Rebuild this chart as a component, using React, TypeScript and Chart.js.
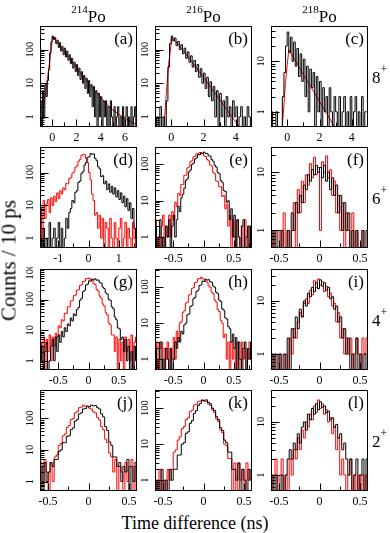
import React, { useEffect, useRef } from 'react';
import { Chart, registerables } from 'chart.js';

Chart.register(...registerables);

// ---------------- data ----------------
const Y_MIN = 0.5;
const ZERO_FLOOR = 0.01; // empty bins are drawn down to (below) the axis bottom
const ISOTOPES = ['214', '216', '218'];
const SPINS = ['8', '6', '4', '2'];
const X_TITLE = 'Time difference (ns)';
const Y_TITLE = 'Counts / 10 ps';

// tick values
const X_MAJOR_WIDE = [0, 2, 4, 6];
const X_MINOR_WIDE = [1, 3, 5];
const X_MAJOR_MID = [0, 2, 4];
const X_MINOR_MID = [1, 3];
const X_MAJOR_D = [-1, 0, 1];
const X_MINOR_D = [-1.5, -0.5, 0.5, 1.5];
const X_MAJOR_HALF = [-0.5, 0, 0.5];
const X_MINOR_08 = [-0.75, -0.25, 0.25, 0.75];
const X_MINOR_06 = [-0.25, 0.25];
const Y_MAJOR = [1, 10, 100, 1000];

// (a) 214Po 8+  : -1..7 ns
const A_BLACK = [
  3, 0, 6, 1, 9, 4, 12, 25, 80, 170,
  250, 200, 230, 150, 190, 115, 160, 90, 125, 70,
  110, 60, 90, 48, 70, 38, 55, 28, 42, 22,
  36, 17, 28, 13, 22, 10, 17, 7, 14, 5,
  12, 4, 9, 2, 8, 1, 6, 0, 5, 1,
  4, 0, 3, 1, 3, 0, 2, 0, 3, 1,
  0, 2, 0, 1, 2, 0, 1, 0, 2, 0,
  1, 2, 0, 1, 0, 2, 0, 1, 2, 0,
];
const A_FIT_X = [-0.9, -0.6, -0.3, -0.1, 0.05, 0.5, 1, 1.5, 2, 2.5, 3, 3.5, 4, 4.5, 5, 5.5, 6, 6.5, 7];
const A_FIT_Y = [0.5, 3.5, 24, 90, 240, 150, 88, 52, 29, 17, 10, 6, 3.8, 2.4, 1.6, 1.2, 0.9, 0.72, 0.58];

// (b) 216Po 8+ : -1..5 ns
const B_BLACK = [
  0, 1, 0, 2, 0, 1, 0, 3, 30, 150,
  250, 180, 220, 130, 175, 100, 140, 75, 110, 55,
  85, 42, 65, 30, 48, 22, 36, 15, 27, 10,
  20, 7, 15, 4, 11, 3, 8, 1, 6, 0,
  5, 1, 3, 0, 4, 1, 2, 0, 3, 1,
  2, 0, 1, 2, 0, 1, 0, 2, 1, 0,
];
const B_FIT_X = [-0.45, -0.3, -0.15, 0.05, 0.5, 1, 1.5, 2, 2.5, 3, 3.5, 4, 4.3];
const B_FIT_Y = [0.5, 5, 40, 230, 130, 65, 31, 15, 7, 3.3, 1.5, 0.7, 0.45];

// (c) 218Po 8+ : -1..5 ns
const C_BLACK = [
  1, 0, 0, 1, 0, 0, 0, 2, 6, 20,
  38, 15, 30, 10, 24, 8, 18, 5, 14, 4,
  11, 2, 8, 1, 7, 3, 6, 0, 5, 1,
  4, 0, 3, 1, 2, 0, 3, 1, 0, 2,
  1, 0, 2, 0, 1, 2, 0, 1, 0, 2,
  0, 1, 2, 0, 1, 0, 2, 0, 1, 1,
];
const C_FIT_X = [-0.3, -0.1, 0.1, 0.5, 1, 1.5, 2, 2.5, 2.93, 3.2];
const C_FIT_Y = [0.5, 4, 17, 10.4, 5.5, 3, 1.6, 0.87, 0.5, 0.35];

// (d) 214Po 6+ : -1.6..1.6 ns
const D_BLACK = [
  1, 0, 2, 0, 1, 0, 3, 0, 1, 2,
  0, 1, 3, 0, 2, 0, 1, 4, 2, 6,
  8, 14, 12, 25, 28, 50, 55, 95, 105, 170,
  200, 290, 300, 380, 360, 370, 270, 230, 150, 130,
  75, 80, 45, 55, 30, 45, 25, 38, 22, 34,
  18, 28, 15, 24, 12, 19, 9, 16, 7, 12,
  4, 8, 2, 1,
];
const D_RED = [
  8, 0, 14, 4, 11, 15, 6, 17, 10, 19,
  13, 24, 16, 28, 22, 34, 30, 46, 45, 65,
  70, 95, 105, 145, 160, 220, 250, 330, 350, 350,
  270, 200, 100, 60, 22, 14, 5, 6, 2, 5,
  1, 4, 0, 3, 2, 0, 4, 1, 0, 3,
  1, 0, 2, 4, 0, 1, 3, 0, 2, 1,
  0, 3, 1, 0,
];

// (e) 216Po 6+ : -0.8..0.8 ns
const E_BLACK = [
  2, 0, 1, 3, 0, 1, 0, 2, 1, 3,
  0, 2, 4, 1, 3, 7, 5, 12, 15, 22,
  36, 40, 62, 70, 100, 108, 140, 150, 185, 182,
  210, 200, 218, 198, 200, 170, 170, 135, 122, 95,
  84, 60, 55, 36, 32, 19, 18, 9, 10, 3,
  6, 1, 4, 0, 3, 1, 0, 2, 3, 0,
  1, 2, 0, 2,
];
const E_RED = [
  3, 0, 1, 0, 2, 4, 0, 2, 1, 4,
  1, 5, 3, 9, 7, 16, 14, 28, 28, 50,
  50, 80, 85, 118, 125, 160, 165, 195, 190, 210,
  195, 195, 170, 165, 135, 125, 95, 90, 60, 55,
  35, 34, 24, 24, 13, 14, 6, 8, 2, 4,
  0, 3, 1, 0, 3, 1, 0, 2, 0, 3,
  1, 0, 2, 1,
];

// (f) 218Po 6+ : -0.6..0.6 ns
const F_BLACK = [
  1, 0, 1, 0, 0, 1, 0, 0, 1, 0,
  2, 1, 3, 2, 4, 3, 6, 5, 9, 7,
  11, 9, 13, 10, 12, 8, 13, 7, 10, 5,
  8, 4, 6, 2, 4, 1, 3, 1, 2, 0,
  1, 0, 1, 0, 0, 1, 0, 1,
];
const F_RED = [
  0, 1, 0, 0, 1, 0, 2, 0, 1, 0,
  1, 3, 0, 5, 2, 7, 3, 9, 6, 14,
  8, 18, 9, 12, 1, 15, 10, 19, 8, 11,
  4, 7, 2, 4, 1, 3, 0, 2, 1, 0,
  2, 0, 1, 0, 0, 1, 0, 0,
];

// (g) 214Po 4+ : -0.8..0.8 ns
const G_BLACK = [
  1, 3, 0, 2, 4, 0, 1, 3, 5, 1,
  6, 2, 7, 4, 9, 6, 12, 9, 16, 14,
  25, 20, 34, 30, 48, 55, 95, 110, 180, 200,
  300, 320, 410, 400, 470, 440, 480, 430, 435, 360,
  345, 255, 230, 165, 150, 100, 95, 58, 50, 27,
  22, 12, 11, 5, 6, 2, 5, 1, 3, 0,
  2, 0, 3, 1,
];
const G_RED = [
  4, 1, 6, 0, 5, 2, 7, 1, 6, 3,
  8, 6, 14, 12, 22, 20, 36, 35, 58, 58,
  90, 92, 135, 140, 200, 210, 290, 300, 390, 400,
  490, 480, 510, 440, 430, 330, 310, 215, 190, 130,
  110, 72, 62, 38, 32, 17, 15, 7, 7, 2,
  6, 0, 5, 1, 4, 0, 6, 2, 5, 1,
  7, 0, 4, 6,
];

// (h) 216Po 4+ : -0.8..0.8 ns
const H_BLACK = [
  2, 0, 1, 3, 0, 1, 0, 2, 1, 0,
  2, 0, 1, 3, 2, 4, 3, 6, 5, 9,
  10, 17, 18, 29, 31, 48, 52, 75, 82, 112,
  115, 148, 145, 165, 158, 162, 142, 138, 108, 100,
  72, 66, 44, 40, 25, 23, 14, 13, 8, 7,
  3, 5, 2, 4, 0, 3, 1, 0, 2, 3,
  0, 2, 1, 3,
];
const H_RED = [
  1, 3, 0, 2, 3, 0, 2, 1, 3, 0,
  2, 1, 4, 1, 6, 3, 10, 11, 20, 22,
  36, 38, 60, 62, 92, 98, 135, 138, 172, 172,
  190, 170, 170, 145, 138, 108, 100, 72, 66, 44,
  39, 24, 21, 12, 10, 4, 5, 1, 3, 0,
  3, 1, 2, 0, 3, 1, 0, 3, 1, 2,
  0, 1, 3, 1,
];

// (i) 218Po 4+ : -0.6..0.6 ns
const I_BLACK = [
  1, 0, 1, 0, 1, 0, 1, 0, 2, 0,
  3, 2, 5, 3, 7, 5, 10, 8, 14, 12,
  18, 15, 22, 17, 25, 19, 22, 16, 18, 11,
  12, 7, 8, 4, 5, 2, 3, 1, 2, 0,
  1, 0, 2, 0, 1, 0, 1, 0,
];
const I_RED = [
  0, 1, 0, 0, 1, 0, 0, 1, 0, 2,
  1, 3, 2, 4, 6, 5, 9, 11, 9, 16,
  13, 24, 18, 26, 20, 23, 15, 19, 12, 14,
  8, 9, 4, 6, 2, 3, 1, 2, 1, 2,
  0, 1, 2, 1, 0, 2, 1, 2,
];

// (j) 214Po 2+ : -0.6..0.6 ns
const J_BLACK = [
  3, 0, 4, 1, 2, 4, 3, 5, 5, 9,
  10, 17, 17, 27, 28, 44, 50, 82, 92, 140,
  150, 200, 205, 245, 235, 265, 250, 258, 220, 200,
  140, 112, 55, 42, 18, 14, 6, 6, 3, 4,
  1, 3, 2, 5, 0, 3, 1, 4,
];
const J_RED = [
  4, 1, 5, 2, 0, 4, 1, 6, 7, 14,
  16, 28, 32, 52, 60, 92, 100, 150, 165, 220,
  230, 262, 245, 245, 212, 200, 162, 150, 108, 90,
  55, 44, 22, 17, 8, 6, 2, 5, 0, 3,
  2, 0, 4, 1, 3, 5, 0, 3,
];

// (k) 216Po 2+ : -0.6..0.6 ns
const K_BLACK = [
  0, 1, 0, 2, 0, 1, 0, 2, 1, 2,
  2, 5, 5, 10, 11, 20, 22, 38, 45, 72,
  85, 120, 135, 165, 165, 170, 145, 132, 100, 86,
  58, 48, 29, 24, 13, 11, 6, 6, 2, 2,
  1, 3, 0, 2, 1, 0, 2, 1,
];
const K_RED = [
  1, 0, 2, 0, 1, 0, 2, 1, 2, 6,
  7, 13, 16, 27, 31, 48, 54, 80, 88, 122,
  128, 155, 158, 170, 155, 155, 130, 120, 90, 76,
  50, 43, 25, 21, 10, 9, 4, 4, 0, 3,
  0, 3, 1, 2, 0, 3, 1, 2,
];

// (l) 218Po 2+ : -0.6..0.6 ns
const L_BLACK = [
  1, 0, 1, 0, 0, 1, 0, 1, 2, 3,
  2, 4, 3, 6, 4, 8, 10, 7, 14, 11,
  18, 14, 22, 17, 24, 19, 20, 15, 16, 11,
  12, 8, 9, 5, 6, 3, 4, 2, 1, 2,
  0, 1, 2, 0, 1, 2, 0, 2,
];
const L_RED = [
  0, 1, 2, 0, 1, 2, 0, 1, 0, 2,
  1, 3, 2, 5, 3, 7, 5, 10, 8, 14,
  11, 20, 15, 26, 18, 22, 14, 17, 10, 12,
  6, 8, 3, 5, 1, 2, 1, 0, 1, 2,
  0, 1, 0, 1, 0, 1, 0, 1,
];

// ---------------- layout / style ----------------
const FONT = '"Liberation Serif", "Times New Roman", Times, serif';
const COL_LEFT = [40, 155, 271];
const ROW_TOP = [26, 147, 269, 390];
const BOX_W = 97;
const BOX_H = 101;
const PAD_L = 24;
const PAD_T = 2;
const PAD_R = 2;
const PAD_B = 18;
const BLACK = '#000000';
const RED = '#ff0000';

type Series = { kind: 'hist' | 'fit'; color: string; values: number[]; xs?: number[] };
type Panel = {
  letter: string;
  row: number;
  col: number;
  xMin: number;
  xMax: number;
  yMax: number;
  xMajor: number[];
  xMinor: number[];
  series: Series[];
};

const h = (color: string, values: number[]): Series => ({ kind: 'hist', color, values });
const f = (xs: number[], values: number[]): Series => ({ kind: 'fit', color: RED, values, xs });

const PANELS: Panel[] = [
  { letter: 'a', row: 0, col: 0, xMin: -1, xMax: 7, yMax: 500, xMajor: X_MAJOR_WIDE, xMinor: X_MINOR_WIDE, series: [h(BLACK, A_BLACK), f(A_FIT_X, A_FIT_Y)] },
  { letter: 'b', row: 0, col: 1, xMin: -1, xMax: 5, yMax: 500, xMajor: X_MAJOR_MID, xMinor: X_MINOR_MID, series: [h(BLACK, B_BLACK), f(B_FIT_X, B_FIT_Y)] },
  { letter: 'c', row: 0, col: 2, xMin: -1, xMax: 5, yMax: 50, xMajor: X_MAJOR_MID, xMinor: X_MINOR_MID, series: [h(BLACK, C_BLACK), f(C_FIT_X, C_FIT_Y)] },
  { letter: 'd', row: 1, col: 0, xMin: -1.6, xMax: 1.6, yMax: 600, xMajor: X_MAJOR_D, xMinor: X_MINOR_D, series: [h(BLACK, D_BLACK), h(RED, D_RED)] },
  { letter: 'e', row: 1, col: 1, xMin: -0.8, xMax: 0.8, yMax: 300, xMajor: X_MAJOR_HALF, xMinor: X_MINOR_08, series: [h(BLACK, E_BLACK), h(RED, E_RED)] },
  { letter: 'f', row: 1, col: 2, xMin: -0.6, xMax: 0.6, yMax: 27, xMajor: X_MAJOR_HALF, xMinor: X_MINOR_06, series: [h(BLACK, F_BLACK), h(RED, F_RED)] },
  { letter: 'g', row: 2, col: 0, xMin: -0.8, xMax: 0.8, yMax: 1000, xMajor: X_MAJOR_HALF, xMinor: X_MINOR_08, series: [h(BLACK, G_BLACK), h(RED, G_RED)] },
  { letter: 'h', row: 2, col: 1, xMin: -0.8, xMax: 0.8, yMax: 320, xMajor: X_MAJOR_HALF, xMinor: X_MINOR_08, series: [h(BLACK, H_BLACK), h(RED, H_RED)] },
  { letter: 'i', row: 2, col: 2, xMin: -0.6, xMax: 0.6, yMax: 40, xMajor: X_MAJOR_HALF, xMinor: X_MINOR_06, series: [h(BLACK, I_BLACK), h(RED, I_RED)] },
  { letter: 'j', row: 3, col: 0, xMin: -0.6, xMax: 0.6, yMax: 800, xMajor: X_MAJOR_HALF, xMinor: X_MINOR_06, series: [h(BLACK, J_BLACK), h(RED, J_RED)] },
  { letter: 'k', row: 3, col: 1, xMin: -0.6, xMax: 0.6, yMax: 320, xMajor: X_MAJOR_HALF, xMinor: X_MINOR_06, series: [h(BLACK, K_BLACK), h(RED, K_RED)] },
  { letter: 'l', row: 3, col: 2, xMin: -0.6, xMax: 0.6, yMax: 40, xMajor: X_MAJOR_HALF, xMinor: X_MINOR_06, series: [h(BLACK, L_BLACK), h(RED, L_RED)] },
];

function toPoints(p: Panel, s: Series) {
  if (s.kind === 'fit') return s.values.map((v, i) => ({ x: s.xs![i], y: v }));
  const w = (p.xMax - p.xMin) / s.values.length;
  const ys = s.values.map((v) => (v > 0 ? v : ZERO_FLOOR));
  const pts = ys.map((v, i) => ({ x: p.xMin + i * w, y: v }));
  pts.push({ x: p.xMax, y: ys[ys.length - 1] });
  return pts;
}

function fmt(v: number) {
  return v < 0 ? '-' + String(Math.abs(v)) : String(v);
}

function framePlugin(p: Panel) {
  return {
    id: 'frame_' + p.letter,
    afterDatasetsDraw(chart: any) {
      const { ctx, chartArea: a, scales } = chart;
      const xs = scales.x;
      const ys = scales.y;
      ctx.save();
      ctx.strokeStyle = '#000';
      ctx.lineWidth = 1;
      const B = a.bottom - 0.5;
      const L = a.left + 0.5;
      ctx.beginPath();
      p.xMajor.forEach((v) => {
        const px = Math.round(xs.getPixelForValue(v)) + 0.5;
        ctx.moveTo(px, B);
        ctx.lineTo(px, B - 7);
      });
      p.xMinor.forEach((v) => {
        const px = Math.round(xs.getPixelForValue(v)) + 0.5;
        ctx.moveTo(px, B);
        ctx.lineTo(px, B - 4);
      });
      const yMaj = Y_MAJOR.filter((v) => v >= Y_MIN && v <= p.yMax);
      yMaj.forEach((v) => {
        const py = Math.round(ys.getPixelForValue(v)) + 0.5;
        ctx.moveTo(L, py);
        ctx.lineTo(L + 8, py);
      });
      [0.1, 1, 10, 100].forEach((d) => {
        for (let m = 2; m <= 9; m++) {
          const v = m * d;
          if (v > Y_MIN && v < p.yMax) {
            const py = Math.round(ys.getPixelForValue(v)) + 0.5;
            ctx.moveTo(L, py);
            ctx.lineTo(L + 4, py);
          }
        }
      });
      ctx.stroke();
      ctx.strokeRect(a.left + 0.5, a.top + 0.5, a.right - a.left - 1, a.bottom - a.top - 1);

      ctx.fillStyle = '#000';
      ctx.font = '12px ' + FONT;
      ctx.textAlign = 'center';
      ctx.textBaseline = 'alphabetic';
      p.xMajor.forEach((v) => {
        ctx.fillText(fmt(v), xs.getPixelForValue(v), a.bottom + 14);
      });
      ctx.font = '10.5px ' + FONT;
      yMaj.forEach((v) => {
        ctx.save();
        ctx.translate(a.left - 7, ys.getPixelForValue(v));
        ctx.rotate(-Math.PI / 2);
        ctx.fillText(String(v), 0, 0);
        ctx.restore();
      });
      ctx.font = '17px ' + FONT;
      ctx.textAlign = 'right';
      ctx.fillText('(' + p.letter + ')', a.right - 4, a.top + 18);
      ctx.restore();
    },
  };
}

export default function App() {
  const refs = useRef<(HTMLCanvasElement | null)[]>([]);

  useEffect(() => {
    const charts = PANELS.map((p, i) => {
      const canvas = refs.current[i] as HTMLCanvasElement;
      return new Chart(canvas, {
        type: 'line',
        data: {
          datasets: p.series.map((s) => ({
            data: toPoints(p, s),
            borderColor: s.color,
            borderWidth: 1,
            pointRadius: 0,
            fill: false,
            tension: 0,
            stepped: s.kind === 'hist' ? true : false,
          })),
        },
        options: {
          animation: false,
          responsive: false,
          maintainAspectRatio: false,
          devicePixelRatio: 1,
          events: [],
          layout: { padding: { left: PAD_L, top: PAD_T, right: PAD_R, bottom: PAD_B } },
          plugins: { legend: { display: false }, tooltip: { enabled: false } },
          scales: {
            x: { type: 'linear', min: p.xMin, max: p.xMax, display: false },
            y: { type: 'logarithmic', min: Y_MIN, max: p.yMax, display: false },
          },
        },
        plugins: [framePlugin(p)],
      } as any);
    });
    return () => charts.forEach((c) => c.destroy());
  }, []);

  const cw = BOX_W + PAD_L + PAD_R;
  const ch = BOX_H + PAD_T + PAD_B;

  return (
    <div style={{ position: 'absolute', left: 0, top: 0, width: 390, height: 533, background: '#fff', fontFamily: FONT, color: '#000', overflow: 'hidden' }}>
      {PANELS.map((p, i) => (
        <canvas
          key={p.letter}
          ref={(el) => {
            refs.current[i] = el;
          }}
          width={cw}
          height={ch}
          style={{ position: 'absolute', left: COL_LEFT[p.col] - PAD_L, top: ROW_TOP[p.row] - PAD_T, width: cw, height: ch }}
        />
      ))}
      {ISOTOPES.map((iso, c) => (
        <div
          key={iso}
          style={{ position: 'absolute', left: COL_LEFT[c] + BOX_W / 2 - 40, width: 80, top: 7.5, fontSize: 17, lineHeight: '17px', textAlign: 'center', whiteSpace: 'nowrap' }}
        >
          <span style={{ fontSize: 11, position: 'relative', top: -9 }}>{iso}</span>Po
        </div>
      ))}
      {SPINS.map((s, r) => (
        <div
          key={s}
          style={{ position: 'absolute', left: 372, top: ROW_TOP[r] + BOX_H / 2 + 7 - 14.2, fontSize: 17, lineHeight: '17px', whiteSpace: 'nowrap' }}
        >
          {s}
          <span style={{ fontSize: 12, position: 'relative', top: -10 }}>+</span>
        </div>
      ))}
      <div style={{ position: 'absolute', left: 95, width: 200, top: 514, fontSize: 18, lineHeight: '18px', textAlign: 'center', whiteSpace: 'nowrap' }}>
        {X_TITLE}
      </div>
      <div
        style={{ position: 'absolute', left: 9 - 80, top: 260 - 10.5, width: 160, height: 21, fontSize: 21, lineHeight: '21px', textAlign: 'center', whiteSpace: 'nowrap', transform: 'rotate(-90deg)', transformOrigin: 'center' }}
      >
        {Y_TITLE}
      </div>
    </div>
  );
}
